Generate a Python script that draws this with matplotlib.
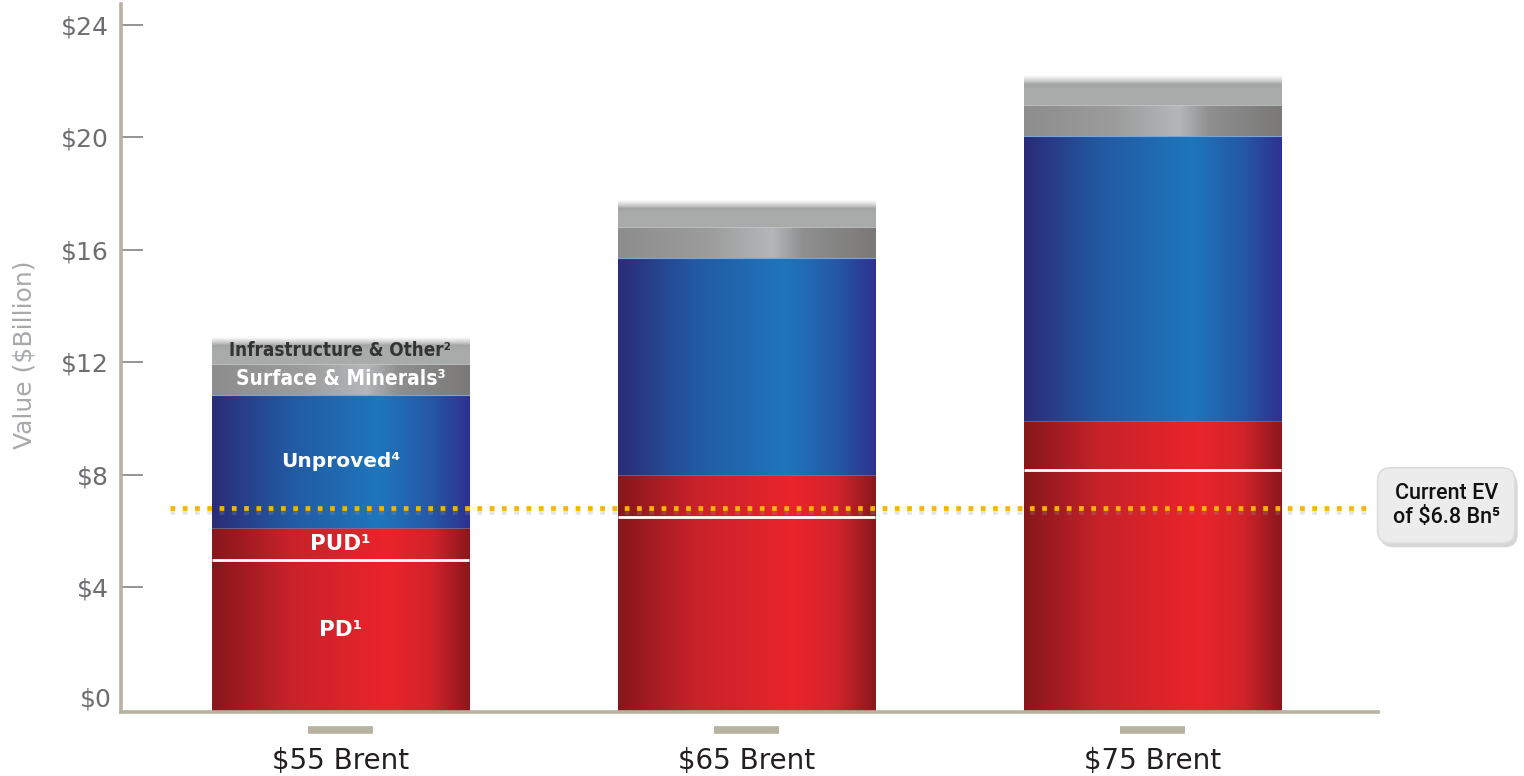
import numpy as np
import matplotlib
matplotlib.use("Agg")
import matplotlib.pyplot as plt
import matplotlib.patheffects as pe
from matplotlib.colors import LinearSegmentedColormap, to_rgb


###########################################
# Data ($ billion)

scenarios = ["$55 Brent", "$65 Brent", "$75 Brent"]
pd_val = [4.95, 6.5, 8.15]
pud_val = [1.15, 1.5, 1.75]
unproved_val = [4.75, 7.7, 10.15]
surface_val = [1.1, 1.1, 1.1]
infra_val = [0.95, 0.95, 1.05]
current_ev = 6.8
y_ticks = [0, 4, 8, 12, 16, 20, 24]

###########################################

red_cmap = LinearSegmentedColormap.from_list(
    "red", [(0, "#87171b"), (0.3, "#c8222a"), (0.68, "#ea242b"), (0.85, "#d2232a"), (1, "#8a181c")])
blue_cmap = LinearSegmentedColormap.from_list(
    "blue", [(0, "#2b2c78"), (0.3, "#225aa3"), (0.65, "#1e76bc"), (0.85, "#2558a6"), (1, "#2e3190")])
grey_cmap = LinearSegmentedColormap.from_list(
    "grey", [(0, "#8d8d8d"), (0.35, "#9c9c9c"), (0.6, "#b4b6b8"), (0.72, "#8f8f8f"), (1, "#7a7978")])

baseline = -0.45
width = 0.633
axis_col = "#b8b2a1"
narrow = ["Liberation Sans Narrow", "DejaVu Sans"]


def hgrad(ax, cmap, x0, x1, y0, y1):
    row = np.linspace(0, 1, 256).reshape(1, -1)
    ax.imshow(row, cmap=cmap, extent=(x0, x1, y0, y1), aspect="auto",
              origin="lower", interpolation="bicubic", zorder=2)


def infra_fade(ax, x0, x1, y0, y1):
    n = 100
    t = np.linspace(0, 1, n)
    base = np.array(to_rgb("#a9abaa"))
    dark = np.array(to_rgb("#a2a4a3"))
    white = np.ones(3)
    img = np.zeros((n, 1, 3))
    for i, v in enumerate(t):
        if v < 0.55:
            c = base
        elif v < 0.7:
            c = base + (dark - base) * (v - 0.55) / 0.15
        else:
            c = dark + (white - dark) * ((v - 0.7) / 0.3) ** 0.8
        img[i, 0] = c
    ax.imshow(img, extent=(x0, x1, y0, y1), aspect="auto", origin="lower",
              interpolation="bilinear", zorder=2)


fig = plt.figure(figsize=(15.24, 7.76), dpi=100)
ax = fig.add_axes([121 / 1524, 1 - 712 / 776, (1378 - 121) / 1524, (712 - 4) / 776])

x = np.arange(len(scenarios))
for i in x:
    x0, x1 = i - width / 2, i + width / 2
    t_pd = pd_val[i]
    t_pud = t_pd + pud_val[i]
    t_un = t_pud + unproved_val[i]
    t_su = t_un + surface_val[i]
    t_in = t_su + infra_val[i]
    hgrad(ax, red_cmap, x0, x1, baseline, t_pud)
    hgrad(ax, blue_cmap, x0, x1, t_pud, t_un)
    hgrad(ax, grey_cmap, x0, x1, t_un, t_su)
    infra_fade(ax, x0, x1, t_su, t_in)
    # separators
    ax.plot([x0, x1], [t_pd, t_pd], color="white", lw=2.0, zorder=3, solid_capstyle="butt")
    ax.plot([x0, x1], [t_pud, t_pud], color="#6b86c0", lw=0.6, alpha=0.7, zorder=3)
    ax.plot([x0, x1], [t_un, t_un], color="#7aa6da", lw=0.8, zorder=3)
    ax.plot([x0, x1], [t_su, t_su], color="#c4c6c6", lw=0.6, zorder=3)

    if i == 0:
        ax.text(i, t_pd / 2, "PD\u00b9", ha="center", va="center", color="white",
                fontsize=15.5, fontweight="bold", zorder=5)
        ax.text(i, (t_pd + t_pud) / 2, "PUD\u00b9", ha="center", va="center", color="white",
                fontsize=15.5, fontweight="bold", zorder=5)
        ax.text(i, (t_pud + t_un) / 2, "Unproved\u2074", ha="center", va="center", color="white",
                fontsize=14.5, fontweight="bold", zorder=5)
        ax.text(i, (t_un + t_su) / 2, "Surface & Minerals\u00b3", ha="center", va="center",
                color="white", fontsize=15, fontweight="bold", zorder=5,
                family=narrow, fontstretch="condensed")
        ax.text(i, (t_su + t_in) / 2, "Infrastructure & Other\u00b2", ha="center", va="center",
                color="#333333", fontsize=13.5, fontweight="bold", zorder=5,
                family=narrow, fontstretch="condensed")

# current EV dotted line with a soft shadow
ax.plot([-0.42, 2.53], [current_ev - 0.12, current_ev - 0.12], color="#9a9a9a", lw=3.4,
        alpha=0.25, dashes=(1, 1.6), dash_capstyle="butt", zorder=6)
ax.plot([-0.42, 2.53], [current_ev, current_ev], color="#f7b500", lw=3.4,
        dashes=(1, 1.6), dash_capstyle="butt", zorder=7)

ev = ax.text(2.723, 6.9, "Current EV\nof $6.8 Bn\u2075", ha="center", va="center",
             fontsize=15.5, color="#111111", zorder=8, clip_on=False, linespacing=1.2,
             family=["Roboto", "DejaVu Sans"], fontweight="medium",
             bbox=dict(boxstyle="round,pad=0.7,rounding_size=0.6", fc="#ececec",
                       ec="#dcdcdc", lw=1.2))
ev.get_bbox_patch().set_path_effects(
    [pe.SimplePatchShadow(offset=(2, -3), shadow_rgbFace="#bbbbbb", alpha=0.6), pe.Normal()])

# small grey markers under each category
for i in x:
    ax.plot([i - 0.08, i + 0.08], [-1.08, -1.08], color=axis_col, lw=5.5,
            solid_capstyle="butt", clip_on=False)

ax.set_xlim(-0.54, 2.555)
ax.set_ylim(baseline, 24.75)

for s in ["top", "right"]:
    ax.spines[s].set_visible(False)
for s in ["left", "bottom"]:
    ax.spines[s].set_color(axis_col)
    ax.spines[s].set_linewidth(2.6)
    ax.spines[s].set_zorder(4)

ax.set_yticks(y_ticks[1:])
ax.set_yticklabels(["${}".format(v) for v in y_ticks[1:]])
ax.tick_params(axis="y", direction="in", length=16, width=1.1, color="#777777",
               labelsize=18, labelcolor="#6d6e71", pad=9)
ax.text(-0.54 - 9 / 406, 0, "$0", transform=ax.transData, ha="right", va="center",
        fontsize=18, color="#6d6e71", clip_on=False)

ax.set_xticks(x)
ax.set_xticklabels(scenarios)
ax.tick_params(axis="x", length=0, labelsize=20, labelcolor="#231f20", pad=25)

fig.text(25 / 1524, 1 - 355 / 776, "Value ($Billion)", rotation=90, ha="center",
         va="center", fontsize=18, color="#a7a9ac")

fig.savefig("out.png", dpi=100)
